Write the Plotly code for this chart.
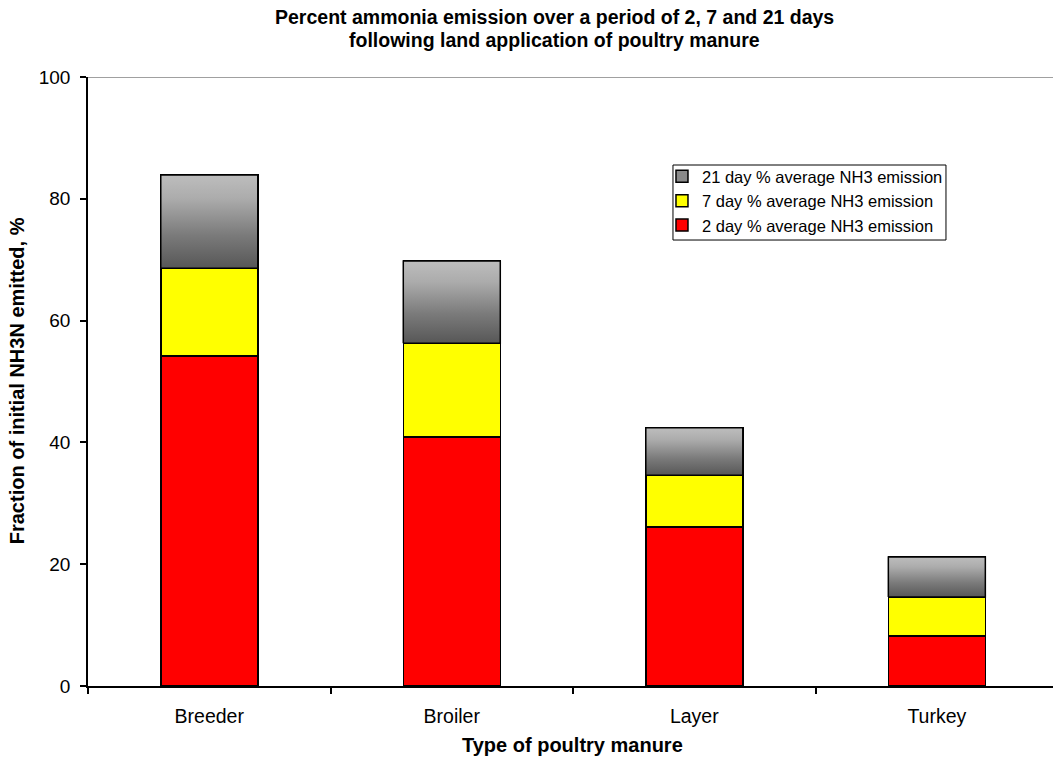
import plotly.graph_objects as go

# Poultry manure types and ammonia emission fractions (% of initial NH3-N)
manure_types = ["Breeder", "Broiler", "Layer", "Turkey"]
day2_emission = [54.2, 40.9, 26.1, 8.2]
day7_increment = [14.4, 15.4, 8.5, 6.4]     # additional emission from day 2 to day 7
day21_increment = [15.3, 13.5, 7.8, 6.6]    # additional emission from day 7 to day 21

title_lines = ["Percent ammonia emission over a period of 2, 7 and 21 days",
               "following land application of poultry manure"]
x_title = "Type of poultry manure"
y_title = "Fraction of initial NH3N emitted, %"

positions = list(range(len(manure_types)))
bar_width = 0.4
font = "Liberation Sans, Arial, sans-serif"

fig = go.Figure()

fig.add_trace(go.Bar(
    x=positions, y=day2_emission, width=bar_width,
    name="2 day % average NH3 emission",
    marker=dict(color="#ff0000", line=dict(color="#000000", width=1.5)),
))
fig.add_trace(go.Bar(
    x=positions, y=day7_increment, width=bar_width,
    name="7 day % average NH3 emission",
    marker=dict(color="#ffff00", line=dict(color="#000000", width=1.5)),
))
fig.add_trace(go.Bar(
    x=positions, y=day21_increment, width=bar_width,
    name="21 day % average NH3 emission",
    marker=dict(color="#8a8a8a", line=dict(color="#000000", width=1.5)),
))

# Gradient shading for the 21-day segments (dark at the base, light at the top)
for i, pos in enumerate(positions):
    base = day2_emission[i] + day7_increment[i]
    top = base + day21_increment[i]
    x0, x1 = pos - bar_width / 2, pos + bar_width / 2
    fig.add_trace(go.Scatter(
        x=[x0, x1, x1, x0, x0], y=[base, base, top, top, base],
        mode="lines", fill="toself",
        fillgradient=dict(type="vertical", start=base, stop=top,
                          colorscale=[[0, "#575757"], [0.35, "#7a7a7a"], [0.75, "#acacac"], [1, "#bdbdbd"]]),
        line=dict(color="#000000", width=1.5),
        showlegend=False, hoverinfo="skip",
    ))

annotations = [
    dict(text=f"<b>{title_lines[0]}</b>", x=0.483, y=1.0985, xref="paper", yref="paper",
         xanchor="center", yanchor="middle", showarrow=False, font=dict(size=19.5)),
    dict(text=f"<b>{title_lines[1]}</b>", x=0.483, y=1.0608, xref="paper", yref="paper",
         xanchor="center", yanchor="middle", showarrow=False, font=dict(size=19.5)),
    dict(text=f"<b>{x_title}</b>", x=0.502, y=-0.0969, xref="paper", yref="paper",
         xanchor="center", yanchor="middle", showarrow=False, font=dict(size=20)),
    dict(text=f"<b>{y_title}</b>", x=-0.0736, y=0.502, xref="paper", yref="paper",
         xanchor="center", yanchor="middle", textangle=-90, showarrow=False, font=dict(size=20)),
]

shapes = [
    # light frame line along the top of the plotting area
    dict(type="line", xref="paper", yref="y", x0=0, x1=1, y0=100, y1=100,
         line=dict(color="#808080", width=1.5), layer="below"),
    # legend frame
    dict(type="rect", xref="paper", yref="paper", x0=0.6062, x1=0.8891, y0=0.7323, y1=0.8555,
         line=dict(color="#000000", width=1), fillcolor="#ffffff", layer="above"),
]

fig.update_layout(
    width=1053, height=761,
    margin=dict(l=88, r=0, t=77, b=75),
    barmode="stack",
    plot_bgcolor="#ffffff", paper_bgcolor="#ffffff",
    font=dict(family=font, color="#000000", size=19),
    xaxis=dict(
        range=[-0.5, 3.479], tickmode="array", tickvals=positions, ticktext=manure_types,
        ticks="", showgrid=False, zeroline=False,
        showline=True, linecolor="#000000", linewidth=1.5,
        minor=dict(tickmode="linear", tick0=0.5, dtick=1, ticks="outside", ticklen=6,
                   tickcolor="#000000", tickwidth=1.5, showgrid=False),
        tickfont=dict(size=19.5), ticklabelstandoff=12,
    ),
    yaxis=dict(
        range=[0, 100], tickvals=[0, 20, 40, 60, 80, 100], ticks="outside", ticklen=6,
        tickcolor="#000000", tickwidth=1.5, showgrid=False, zeroline=False,
        showline=True, linecolor="#000000", linewidth=1.5,
        tickfont=dict(size=19), ticklabelstandoff=6,
    ),
    legend=dict(
        x=0.5948, y=0.8654, xanchor="left", yanchor="top",
        traceorder="reversed", bgcolor="rgba(0,0,0,0)", borderwidth=0,
        font=dict(size=16.5), itemwidth=30, tracegroupgap=0,
    ),
    annotations=annotations,
    shapes=shapes,
)

fig.write_html("out.html")
